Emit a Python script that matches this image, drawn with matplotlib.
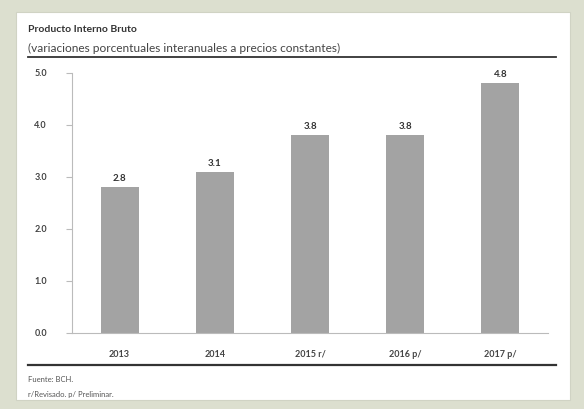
import matplotlib.pyplot as plt
from matplotlib.patches import Rectangle
from matplotlib.lines import Line2D

# Datos
anios = ['2013', '2014', '2015 r/', '2016 p/', '2017 p/']
pib = [2.8, 3.1, 3.8, 3.8, 4.8]
ticks_y = [0.0, 1.0, 2.0, 3.0, 4.0, 5.0]

W, H = 584, 409
fig = plt.figure(figsize=(W / 100, H / 100), dpi=100)
fig.patch.set_facecolor('#dcdfcf')
plt.rcParams['font.family'] = ['Lato', 'DejaVu Sans']

# Panel blanco
fig.patches.append(Rectangle((16 / W, 1 - 400 / H), (570 - 16) / W, (400 - 12) / H,
                             transform=fig.transFigure, facecolor='white',
                             edgecolor='#d0d3c4', linewidth=0.8, zorder=-5))

# Titulo y subtitulo
fig.text(28 / W, 1 - 30 / H, 'Producto Interno Bruto', fontsize=7.5,
         fontweight='bold', color='#333333', va='center')
fig.text(28 / W, 1 - 48 / H, '(variaciones porcentuales interanuales a precios constantes)',
         fontsize=8.6, color='#444444', va='center')
fig.add_artist(Line2D([28 / W, 556 / W], [1 - 57 / H, 1 - 57 / H],
                      transform=fig.transFigure, color='#333333', linewidth=1.3))

# Ejes
ax = fig.add_axes([72 / W, 1 - 333 / H, (548 - 72) / W, (333 - 73) / H])
x = range(len(anios))
ax.bar(x, pib, width=0.4, color='#a3a3a3', zorder=2)
for xi, v in zip(x, pib):
    ax.text(xi, v + 0.08, f'{v:.1f}', ha='center', va='bottom', fontsize=7,
            fontweight='bold', color='#333333')

ax.set_ylim(0, 5)
ax.set_xlim(-0.5, len(anios) - 0.5)
ax.set_yticks(ticks_y)
ax.set_yticklabels([f'{t:.1f}' for t in ticks_y], fontsize=6.5, fontweight='bold', color='#444444')
ax.set_xticks(list(x))
ax.set_xticklabels(anios, fontsize=6.5, fontweight='bold', color='#444444')
ax.tick_params(axis='y', length=4, color='#bbbbbb', pad=14)
ax.tick_params(axis='x', length=0, pad=12)
for s in ['top', 'right']:
    ax.spines[s].set_visible(False)
ax.spines['left'].set_color('#bbbbbb')
ax.spines['bottom'].set_color('#bbbbbb')
ax.set_facecolor('none')

# Linea inferior y notas
fig.add_artist(Line2D([28 / W, 556 / W], [1 - 365 / H, 1 - 365 / H],
                      transform=fig.transFigure, color='#333333', linewidth=1.6))
fig.text(28 / W, 1 - 380 / H, 'Fuente: BCH.', fontsize=5.5, color='#555555', va='center')
fig.text(28 / W, 1 - 394 / H, 'r/Revisado. p/ Preliminar.', fontsize=5.5, color='#555555', va='center')

fig.savefig('out.png', dpi=100, facecolor=fig.get_facecolor())
